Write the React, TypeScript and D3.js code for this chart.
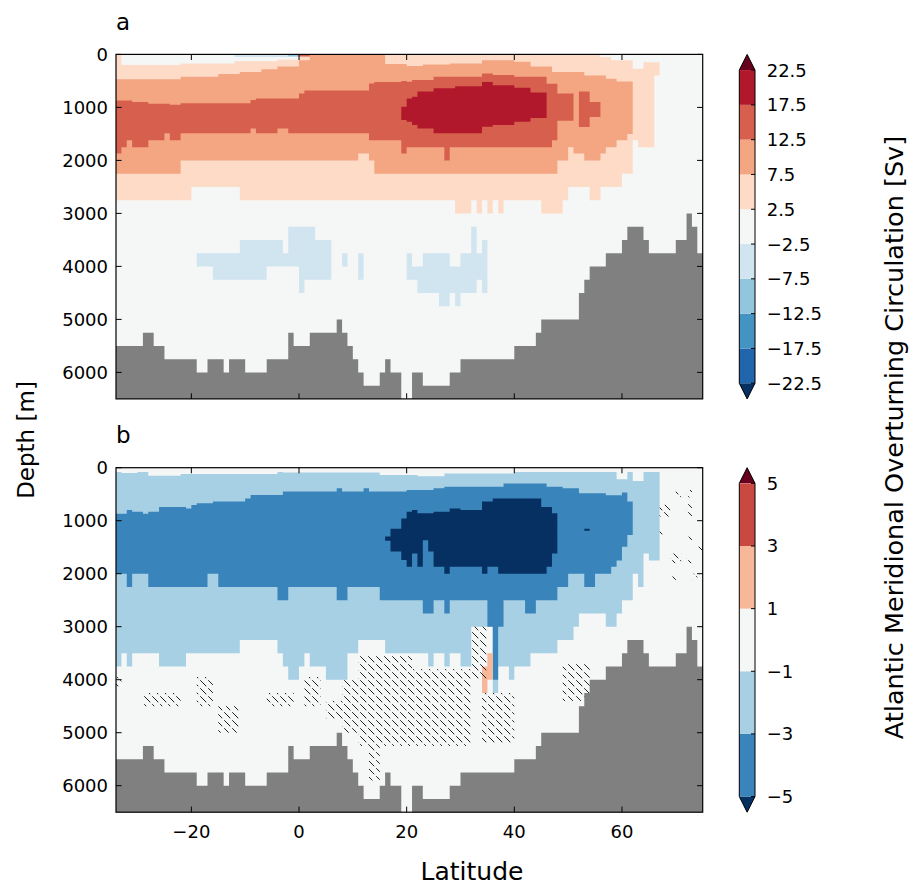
import React from "react";
import * as d3 from "d3";

// ---------- shared sea floor (step columns: edges in degrees, top depth in m) ----------
const floorLat = [-34, -29, -27, -25, -19, -17, -14, -13, -10, -6, -2, -1, 2, 7, 8, 9, 10, 11, 12, 15, 16, 17, 19, 21, 23, 28, 30, 40, 44, 45, 52, 53, 54, 57, 60, 61, 64, 65, 70, 72, 73, 74, 75];
const floorTop = [5500, 5250, 5500, 5750, 6000, 5750, 6000, 5750, 6000, 5750, 5250, 5500, 5250, 5000, 5250, 5500, 5750, 6000, 6250, 6000, 5750, 6000, 6500, 6000, 6250, 6000, 5750, 5500, 5250, 5000, 4500, 4250, 4000, 3750, 3500, 3250, 3500, 3750, 3500, 3000, 3250, 3750];

// ---------- panel a: mean AMOC streamfunction bands ----------
// >= 2.5 Sv
const aP1Lat = [-34, -33, -22, -20, -12, -11, -4, 0, 29, 32, 33, 34, 35, 36, 37, 38, 45, 49, 50, 54, 56, 58, 60, 62, 63, 64, 66, 67];
const aP1Top = [0, 200, 170, 170, 130, 130, 100, 0, 0, 0, 0, 0, 0, 0, 0, 0, 0, 0, 0, 0, 50, 110, 110, 270, 270, 150, 150];
const aP1Bot = [2750, 2750, 2750, 2500, 2500, 2750, 2750, 2750, 3000, 2750, 3000, 2750, 3000, 2750, 3000, 2750, 3000, 2750, 2500, 2750, 2500, 2500, 2250, 1620, 1750, 1750, 400];
// >= 7.5 Sv
const aP2Lat = [-34, -22, -15, -11, -7, -4, 0, 2, 11, 13, 14, 16, 20, 23, 28, 34, 40, 43, 47, 48, 50, 51, 53, 56, 57, 59, 61, 62];
const aP2Top = [470, 420, 370, 330, 280, 230, 110, 0, 0, 0, 0, 180, 220, 190, 170, 110, 140, 230, 330, 330, 330, 330, 400, 400, 460, 510, 510];
const aP2Bot = [2250, 2000, 2000, 2000, 2000, 2000, 2000, 2000, 1870, 2000, 2250, 2250, 2250, 2250, 2250, 2250, 2250, 2250, 2250, 2000, 1750, 1870, 2000, 1870, 1750, 1620, 1500];
// >= 12.5 Sv
const aP3Lat = [-34, -33, -32, -31, -28, -25, -24, -22, -9, -8, -4, -2, 0, 1, 13, 14, 19, 20, 21, 25, 27, 28, 34, 36, 40, 46, 47, 48, 51, 52, 54, 56];
const aP3Top = [870, 870, 870, 900, 930, 930, 950, 920, 860, 830, 830, 830, 740, 680, 550, 520, 500, 515, 484, 420, 420, 420, 360, 390, 420, 555, 555, 740, NaN, 700, 900];
const aP3Bot = [1870, 1750, 1620, 1750, 1620, 1490, 1620, 1490, 1400, 1490, 1400, 1490, 1490, 1490, 1620, 1620, 1870, 1750, 1750, 1750, 2000, 1750, 1750, 1750, 1750, 1750, 1620, 1250, NaN, 1370, 1180];
const aP3SurfLat = [0, 2];
const aP3SurfTop = [0];
const aP3SurfBot = [40];
// >= 17.5 Sv
const aP4Lat = [19, 20, 21, 22, 25, 29, 34, 36, 40, 43, 46];
const aP4Top = [990, 830, 800, 700, 640, 600, 520, 580, 630, 720];
const aP4Bot = [1240, 1270, 1330, 1400, 1490, 1490, 1365, 1333, 1270, 1200];
// <= -2.5 Sv
const aN1Lat = [-19, -16, -11, -6, -3, -2, 0, 1, 3, 6, 8, 9, 11, 12, 20, 21, 22, 23, 26, 28, 29, 30, 32, 33, 34, 35];
const aN1Top = [3750, 3750, 3500, 3500, 3750, 3250, 3250, 3250, 3500, NaN, 3750, NaN, 3750, NaN, 3750, 4000, 4000, 3750, 3750, 4000, 4000, 3750, 3250, 3750, 3500];
const aN1Bot = [4000, 4250, 4250, 4000, 4000, 4000, 4500, 4250, 4250, NaN, 4000, NaN, 4250, NaN, 4250, 4250, 4500, 4500, 4750, 4500, 4750, 4500, 4500, 4250, 4500];
const aN1SurfLat = [-12, 0];
const aN1SurfTop = [0];
const aN1SurfBot = [50];
// <= -7.5 Sv
const aN2Lat = [-2, 0];
const aN2Top = [0];
const aN2Bot = [35];

// ---------- panel b: change in AMOC ----------
// <= -1 Sv
const bN1Lat = [-34, -33, -32, -31, -30, -28, -26, -22, -21, -11, -4, -3, -2, 0, 1, 2, 5, 9, 11, 15, 16, 22, 24, 25, 27, 28, 30, 32, 36, 37, 39, 40, 43, 48, 51, 52, 57, 59, 60, 61, 62, 63, 64, 65, 67];
const bN1Top = [80, 100, 100, 100, 80, 150, 150, 120, 120, 120, 80, 90, 90, 90, 90, 90, 90, 90, 90, 140, 140, 160, 160, 160, 110, 110, 110, 110, 110, 110, 110, 80, 80, 80, 80, 80, 80, 220, 220, 80, 250, 250, 80, 80];
const bN1Bot = [3750, 3500, 3750, 3500, 3500, 3500, 3750, 3750, 3500, 3250, 3500, 3750, 4000, 3750, 3500, 3750, 4000, 3500, 3250, 3250, 3500, 3500, 3750, 3500, 3750, 3500, 3750, 3000, 4250, 3750, 4000, 3750, 3500, 3250, 3000, 2750, 3000, 2750, 2500, 2500, 2000, 2250, 1620, 1750];
// <= -3 Sv
const bN2Lat = [-34, -32, -31, -29, -28, -26, -21, -20, -19, -17, -16, -15, -10, -9, -4, -3, -2, 7, 8, 9, 12, 13, 15, 20, 23, 25, 27, 28, 35, 36, 37, 38, 42, 44, 46, 48, 49, 50, 52, 53, 55, 57, 58, 59, 60, 61, 62];
const bN2Top = [870, 800, 830, 870, 830, 740, 770, 705, 670, 670, 640, 640, 580, 515, 515, 450, 450, 390, 450, 450, 390, 450, 450, 420, 420, 390, 360, 360, 360, 360, 360, 300, 300, 300, 360, 360, 390, 390, 484, 484, 484, 520, 520, 520, 470, 640];
const bN2Bot = [2000, 2250, 2000, 2000, 2250, 2250, 2250, 2250, 2250, 2000, 2000, 2250, 2250, 2250, 2500, 2500, 2250, 2500, 2500, 2250, 2250, 2250, 2500, 2500, 2750, 2500, 2750, 2500, 3000, 4000, 3000, 2500, 2750, 2500, 2500, 2250, 2250, 2000, 2000, 2250, 2000, 2000, 1870, 1750, 1490, 1270];
// <= -5 Sv
const bN3Lat = [16, 17, 19, 20, 21, 22, 23, 24, 25, 27, 28, 30, 34, 35, 36, 37, 45, 46, 47, 48, 53, 54];
const bN3Top = [1300, 1150, 960, 830, 800, 860, 860, 860, 830, 830, 770, 800, 640, 640, 580, 580, 740, 740, 860, NaN, 1150];
const bN3Bot = [1380, 1580, 1740, 1870, 1620, 1870, 1370, 1580, 1870, 2000, 1870, 1870, 2000, 1870, 1870, 2000, 2000, 1870, 1620, NaN, 1190];
// >= 1 Sv
const bP1Lat = [34, 35, 36];
const bP1Top = [3750, 3500];
const bP1Bot = [4250, 4000];
// hatched cells: [lat0, lat1, top, bottom]
const bHatchLat0 = [-34, -29, -19, -15, -6, 1, 5, 11, 8, 13, 20, 32, 34, 49, 70, 72, 67, 72, 67, 72, 74, 69, 72, 69, 73];
const bHatchLat1 = [-33, -22, -16, -11, -1, 4, 10, 21, 11, 15, 32, 35, 40, 54, 71, 73, 69, 73, 68, 73, 75, 71, 73, 70, 74];
const bHatchTop = [3950, 4250, 3950, 4500, 4250, 3950, 4400, 3550, 4000, 5250, 3800, 3000, 4250, 3700, 420, 420, 700, 670, 1170, 1300, 1490, 1620, 1700, 2050, 2000];
const bHatchBot = [4150, 4500, 4500, 5000, 4500, 4500, 4750, 5250, 5000, 5900, 5250, 4000, 5200, 4400, 560, 560, 920, 920, 1280, 1400, 1600, 1800, 1800, 2150, 2120];

// ---------- colour scales ----------
const aLevels = [-22.5, -17.5, -12.5, -7.5, -2.5, 2.5, 7.5, 12.5, 17.5, 22.5];
const aColors = ["#2166ac", "#4393c3", "#92c5de", "#d1e5f0", "#f5f6f6", "#fddbc7", "#f4a582", "#d6604d", "#b2182b"];
const bLevels = [-5, -3, -1, 1, 3, 5];
const bColors = ["#3884bb", "#a7d0e4", "#f5f6f6", "#f7b799", "#ca4842"];
const underColor = "#053061";
const overColor = "#67001f";
const floorColor = "#808080";

const latTicks = [-20, 0, 20, 40, 60];
const depthTicks = [0, 1000, 2000, 3000, 4000, 5000, 6000];

// ---------- geometry ----------
const W = 911;
const H = 887;
const plotL = 116;
const plotR = 702.7;
const panelH = 344.5;
const topA = 54.4;
const topB = 467.7;
const cbX = 739.3;
const cbW = 15.7;
const FONT = "DejaVu Sans, sans-serif";
const TICK_FS = 18;

const xScale = d3.scaleLinear().domain([-34, 75]).range([plotL, plotR]);
const depthScale = (top: number) => d3.scaleLinear().domain([0, 6500]).range([top, top + panelH]);

const minus = (v: number) => (v < 0 ? "\u2212" + String(Math.abs(v)) : String(v));

type Pt = { l: number; t: number; b: number } | null;

// Filled step region: one column per pair of neighbouring latitude edges
function stepArea(lat: number[], top: number[], bot: number[], y: d3.ScaleLinear<number, number>): string {
  const pts: Pt[] = [];
  top.forEach((t, i) => {
    if (Number.isNaN(t)) {
      pts.push(null);
      return;
    }
    pts.push({ l: lat[i], t, b: bot[i] });
    pts.push({ l: lat[i + 1], t, b: bot[i] });
  });
  const area = d3
    .area<Pt>()
    .defined((d) => d !== null)
    .x((d) => xScale((d as any).l))
    .y0((d) => y((d as any).t))
    .y1((d) => y((d as any).b));
  return area(pts) ?? "";
}

type Layer = { lat: number[]; top: number[]; bot: number[]; fill: string };

const layersA: Layer[] = [
  { lat: aP1Lat, top: aP1Top, bot: aP1Bot, fill: aColors[5] },
  { lat: aP2Lat, top: aP2Top, bot: aP2Bot, fill: aColors[6] },
  { lat: aP3Lat, top: aP3Top, bot: aP3Bot, fill: aColors[7] },
  { lat: aP3SurfLat, top: aP3SurfTop, bot: aP3SurfBot, fill: aColors[7] },
  { lat: aP4Lat, top: aP4Top, bot: aP4Bot, fill: aColors[8] },
  { lat: aN1Lat, top: aN1Top, bot: aN1Bot, fill: aColors[3] },
  { lat: aN1SurfLat, top: aN1SurfTop, bot: aN1SurfBot, fill: aColors[3] },
  { lat: aN2Lat, top: aN2Top, bot: aN2Bot, fill: aColors[2] },
];

const layersB: Layer[] = [
  { lat: bN1Lat, top: bN1Top, bot: bN1Bot, fill: bColors[1] },
  { lat: bN2Lat, top: bN2Top, bot: bN2Bot, fill: bColors[0] },
  { lat: bN3Lat, top: bN3Top, bot: bN3Bot, fill: underColor },
  { lat: bP1Lat, top: bP1Top, bot: bP1Bot, fill: bColors[3] },
];

function Panel({ top, layers, hatched, showXLabels }: { top: number; layers: Layer[]; hatched: boolean; showXLabels: boolean }) {
  const y = depthScale(top);
  const bottom = top + panelH;
  const floorBot = floorTop.map(() => 6500);
  const tick = 5.6;
  return (
    <g>
      <rect x={plotL} y={top} width={plotR - plotL} height={panelH} fill={aColors[4]} />
      {layers.map((L, i) => (
        <path key={i} d={stepArea(L.lat, L.top, L.bot, y)} fill={L.fill} />
      ))}
      {hatched &&
        bHatchLat0.map((l0, i) => (
          <rect
            key={"h" + i}
            x={xScale(l0)}
            y={y(bHatchTop[i])}
            width={xScale(bHatchLat1[i]) - xScale(l0)}
            height={y(bHatchBot[i]) - y(bHatchTop[i])}
            fill="url(#hatch)"
          />
        ))}
      <path d={stepArea(floorLat, floorTop, floorBot, y)} fill={floorColor} />
      <rect x={plotL} y={top} width={plotR - plotL} height={panelH} fill="none" stroke="#000" strokeWidth={1.2} />
      {latTicks.map((t) => (
        <g key={"x" + t}>
          <line x1={xScale(t)} x2={xScale(t)} y1={top} y2={top + tick} stroke="#000" />
          <line x1={xScale(t)} x2={xScale(t)} y1={bottom} y2={bottom - tick} stroke="#000" />
          {showXLabels && (
            <text x={xScale(t)} y={bottom + 26} textAnchor="middle" fontSize={TICK_FS} fontFamily={FONT}>
              {minus(t)}
            </text>
          )}
        </g>
      ))}
      {depthTicks.map((d) => (
        <g key={"y" + d}>
          <line x1={plotL} x2={plotL + tick} y1={y(d)} y2={y(d)} stroke="#000" />
          <line x1={plotR} x2={plotR - tick} y1={y(d)} y2={y(d)} stroke="#000" />
          <text x={108} y={y(d)} dy="0.36em" textAnchor="end" fontSize={TICK_FS} fontFamily={FONT}>
            {d}
          </text>
        </g>
      ))}
    </g>
  );
}

function Colorbar({ top, levels, colors }: { top: number; levels: number[]; colors: string[] }) {
  const ext = (panelH * 0.05) / 1.1;
  const y0 = top + ext;
  const y1 = top + panelH - ext;
  const s = d3.scaleLinear().domain([levels[0], levels[levels.length - 1]]).range([y1, y0]);
  const xm = cbX + cbW / 2;
  const xr = cbX + cbW;
  const outline = `M${cbX},${y0} L${xm},${top} L${xr},${y0} L${xr},${y1} L${xm},${top + panelH} L${cbX},${y1} Z`;
  return (
    <g>
      <path d={`M${cbX},${y0} L${xm},${top} L${xr},${y0} Z`} fill={overColor} />
      <path d={`M${cbX},${y1} L${xm},${top + panelH} L${xr},${y1} Z`} fill={underColor} />
      {colors.map((c, i) => (
        <rect key={i} x={cbX} y={s(levels[i + 1])} width={cbW} height={s(levels[i]) - s(levels[i + 1])} fill={c} />
      ))}
      <path d={outline} fill="none" stroke="#000" strokeWidth={1} />
      {levels.map((v) => (
        <g key={v}>
          <line x1={xr} x2={xr - 4} y1={s(v)} y2={s(v)} stroke="#000" />
          <text x={xr + 11.7} y={s(v)} dy="0.36em" fontSize={TICK_FS} fontFamily={FONT}>
            {minus(v)}
          </text>
        </g>
      ))}
    </g>
  );
}

export default function App() {
  return (
    <div style={{ position: "absolute", left: 0, top: 0 }}>
      <svg width={W} height={H} viewBox={`0 0 ${W} ${H}`} style={{ display: "block", background: "#fff" }}>
        <defs>
          <pattern id="hatch" patternUnits="userSpaceOnUse" width={8} height={8}>
            <path d="M0.5,0.5 L6,6" stroke="#222" strokeWidth={1} strokeLinecap="round" />
          </pattern>
        </defs>
        <rect width={W} height={H} fill="#fff" />
        <Panel top={topA} layers={layersA} hatched={false} showXLabels={false} />
        <Panel top={topB} layers={layersB} hatched={true} showXLabels={true} />
        <Colorbar top={topA} levels={aLevels} colors={aColors} />
        <Colorbar top={topB} levels={bLevels} colors={bColors} />
        <text x={116} y={30} fontSize={23} fontFamily={FONT}>a</text>
        <text x={116} y={443} fontSize={23} fontFamily={FONT}>b</text>
        <text x={472} y={880} textAnchor="middle" fontSize={25} fontFamily={FONT}>Latitude</text>
        <text transform="translate(34,440) rotate(-90)" textAnchor="middle" fontSize={23} fontFamily={FONT}>
          Depth [m]
        </text>
        <text transform="translate(903,437.5) rotate(-90)" textAnchor="middle" fontSize={25.5} fontFamily={FONT}>
          Atlantic Meridional Overturning Circulation [Sv]
        </text>
      </svg>
    </div>
  );
}
